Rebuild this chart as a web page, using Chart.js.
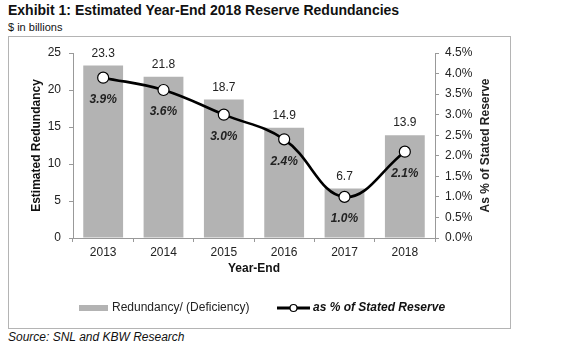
<!DOCTYPE html>
<html>
<head>
<meta charset="utf-8">
<script src="https://cdn.jsdelivr.net/npm/chart.js@4.4.1/dist/chart.umd.min.js"></script>
<style>
  html, body { margin: 0; padding: 0; background: #fff; }
  body { width: 580px; height: 357px; position: relative; overflow: hidden; font-family: "Liberation Sans", Arial, sans-serif; }
  #c { position: absolute; left: 0; top: 0; }
  .t { position: absolute; white-space: nowrap; color: #111; }
  #title { left: 8px; top: 2px; font-size: 14px; font-weight: bold; line-height: 17px; }
  #sub { left: 8px; top: 20px; font-size: 11px; line-height: 14px; }
  #src { left: 8px; top: 330px; font-size: 12px; font-style: italic; line-height: 15px; }
  #box { position: absolute; left: 8px; top: 36px; width: 501px; height: 291px; border: 1px solid #b4b4b4; }
</style>
</head>
<body>
<div id="box"></div>
<div class="t" id="title">Exhibit 1: Estimated Year-End 2018 Reserve Redundancies</div>
<div class="t" id="sub">$ in billions</div>
<div class="t" id="src">Source: SNL and KBW Research</div>
<canvas id="c" width="580" height="357"></canvas>
<script>
const years = ["2013", "2014", "2015", "2016", "2017", "2018"];
const redundancy = [23.3, 21.8, 18.7, 14.9, 6.7, 13.9];
const pctOfReserve = [3.9, 3.6, 3.0, 2.4, 1.0, 2.1];
const barLabel = "Redundancy/ (Deficiency)";
const lineLabel = "as % of Stated Reserve";
const leftTitle = "Estimated Redundancy";
const rightTitle = "As % of Stated Reserve";
const xTitle = "Year-End";

const FONT = "'Liberation Sans', Arial, sans-serif";
Chart.defaults.font.family = FONT;
Chart.defaults.font.size = 12;
Chart.defaults.color = "#222";

const labelsPlugin = {
  id: "labels",
  afterDatasetsDraw(chart) {
    const ctx = chart.ctx;
    ctx.save();
    const barMeta = chart.getDatasetMeta(1);
    ctx.fillStyle = "#222";
    ctx.textAlign = "center";
    ctx.textBaseline = "middle";
    ctx.font = "12px " + FONT;
    barMeta.data.forEach((el, i) => {
      ctx.fillText(redundancy[i].toFixed(1), el.x, el.y - 12);
    });
    const lineMeta = chart.getDatasetMeta(0);
    ctx.font = "italic bold 12px " + FONT;
    lineMeta.data.forEach((el, i) => {
      ctx.fillText(pctOfReserve[i].toFixed(1) + "%", el.x, el.y + 22);
    });
    ctx.restore();
  },
  afterDraw(chart) {
    const ctx = chart.ctx;
    const yr = chart.scales.y2;
    const area = chart.chartArea;
    ctx.save();
    // right axis title (reads bottom to top)
    ctx.translate(yr.left + 51, (area.top + area.bottom) / 2);
    ctx.rotate(-Math.PI / 2);
    ctx.font = "bold 12px " + FONT;
    ctx.fillStyle = "#222";
    ctx.textAlign = "center";
    ctx.textBaseline = "middle";
    ctx.fillText(rightTitle, 0, 0);
    ctx.restore();

    // legend
    ctx.save();
    const ly = 308;
    const bx = 79;
    ctx.fillStyle = chart.data.datasets[1].backgroundColor;
    ctx.fillRect(bx, ly - 3, 29, 6);
    ctx.fillStyle = "#222";
    ctx.font = "12px " + FONT;
    ctx.textBaseline = "middle";
    ctx.textAlign = "left";
    ctx.fillText(barLabel, bx + 33, ly);
    const lx = 277;
    ctx.strokeStyle = "#000";
    ctx.lineWidth = 3;
    ctx.beginPath();
    ctx.moveTo(lx, ly);
    ctx.lineTo(lx + 33, ly);
    ctx.stroke();
    ctx.beginPath();
    ctx.arc(lx + 16.5, ly, 3.5, 0, Math.PI * 2);
    ctx.fillStyle = "#fff";
    ctx.fill();
    ctx.lineWidth = 1.2;
    ctx.stroke();
    ctx.fillStyle = "#111";
    ctx.font = "italic bold 12px " + FONT;
    ctx.fillText(lineLabel, lx + 36, ly);
    ctx.restore();
  }
};

const axisGrid = { drawOnChartArea: false, drawTicks: true, tickLength: 4, color: "#999" };

new Chart(document.getElementById("c"), {
  data: {
    labels: years,
    datasets: [
      {
        type: "line",
        label: lineLabel,
        data: pctOfReserve,
        yAxisID: "y2",
        borderColor: "#000",
        borderWidth: 2.6,
        tension: 0.4,
        pointRadius: 5.5,
        pointBackgroundColor: "#fff",
        pointBorderColor: "#000",
        pointBorderWidth: 1.2,
        order: 0
      },
      {
        type: "bar",
        label: barLabel,
        data: redundancy,
        yAxisID: "y",
        backgroundColor: "#b3b3b3",
        barPercentage: 0.66,
        categoryPercentage: 1.0,
        order: 1
      }
    ]
  },
  options: {
    responsive: false,
    animation: false,
    events: [],
    layout: { padding: { left: 20, right: 70, top: 53, bottom: 79 } },
    plugins: { legend: { display: false }, tooltip: { enabled: false } },
    scales: {
      x: {
        offset: true,
        grid: Object.assign({ offset: true }, axisGrid),
        border: { color: "#999", width: 1 },
        ticks: { padding: 3, font: { size: 12 }, color: "#222", maxRotation: 0 },
        title: { display: true, text: xTitle, font: { size: 12, weight: "bold" }, color: "#111", padding: { top: 0, bottom: 2 } },
        afterFit: (s) => { s.height = 40; }
      },
      y: {
        position: "left",
        min: 0, max: 25,
        ticks: { stepSize: 5, padding: 8, font: { size: 12 }, color: "#222" },
        grid: axisGrid,
        border: { color: "#999", width: 1 },
        title: { display: true, text: leftTitle, font: { size: 12, weight: "bold" }, color: "#111", padding: { top: 9, bottom: 0 } },
        afterFit: (s) => { s.width = 53; }
      },
      y2: {
        position: "right",
        min: 0, max: 4.5,
        ticks: { stepSize: 0.5, padding: 6, font: { size: 12 }, color: "#222", callback: (v) => Number(v).toFixed(1) + "%" },
        grid: axisGrid,
        border: { color: "#999", width: 1 },
        afterFit: (s) => { s.width = 75; }
      }
    }
  },
  plugins: [labelsPlugin]
});
</script>
</body>
</html>
